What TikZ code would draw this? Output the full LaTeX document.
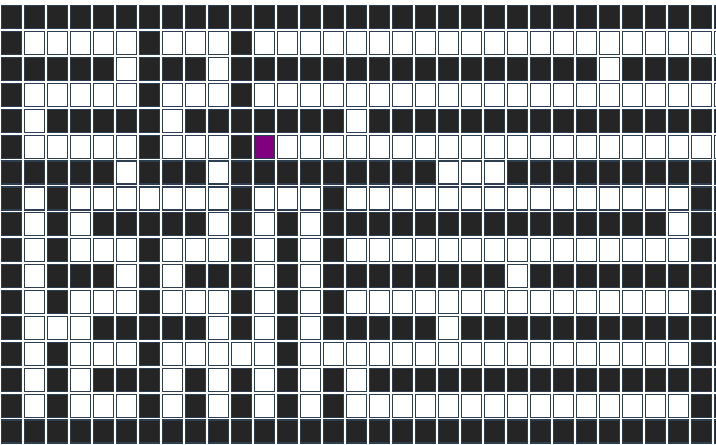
\documentclass[tikz,border=0pt]{standalone}
\definecolor{wallc}{HTML}{252525}
\definecolor{edgec}{HTML}{2C3E50}
\definecolor{goalc}{HTML}{800080}
\begin{document}
\begin{tikzpicture}[x=1pt,y=-1pt,
  cellbox/.style={draw=edgec, line width=1.2pt, fill=white},
  wallbox/.style={cellbox, fill=wallc},
  goalbox/.style={cellbox, fill=goalc}]
\useasboundingbox[fill=white] (0,0) rectangle (716,445);
\foreach \r in {0,...,16}{
  \foreach \c in {0,...,31}{
    \path[cellbox] ({1.6+23*\c},{5.6+25.9*\r}) rectangle ++(20,23);
  }
}
\foreach \r/\cols in {
  0/{0,...,31},
  1/{0,6,10},
  2/{0,1,2,3,4,6,7,8,10,11,12,13,14,15,16,17,18,19,20,21,22,23,24,25,27,28,29,30,31},
  3/{0,6,10},
  4/{0,2,3,4,5,6,8,9,10,11,12,13,14,16,17,18,19,20,21,22,23,24,25,26,27,28,29,30,31},
  5/{0,6,10},
  6/{0,1,2,3,4,6,7,8,10,11,12,13,14,15,16,17,18,22,23,24,25,26,27,28,29,30,31},
  7/{0,2,10,14,30,31},
  8/{0,2,4,5,6,7,8,10,12,14,15,16,17,18,19,20,21,22,23,24,25,26,27,28,30,31},
  9/{0,2,6,10,12,14,30,31},
  10/{0,2,3,4,6,8,9,10,12,14,15,16,17,18,19,20,21,23,24,25,26,27,28,29,30,31},
  11/{0,2,6,10,12,14,30,31},
  12/{0,4,5,6,7,8,10,12,14,15,16,17,18,20,21,22,23,24,25,26,27,28,29,30,31},
  13/{0,2,6,12,30,31},
  14/{0,2,4,5,6,8,10,12,14,16,17,18,19,20,21,22,23,24,25,26,27,28,29,30,31},
  15/{0,2,6,8,10,12,14,30,31},
  16/{0,...,31}}{
  \foreach \c in \cols{
    \path[wallbox] ({1.6+23*\c},{5.6+25.9*\r}) rectangle ++(20,23);
  }
}
\path[goalbox] ({1.6+23*11},{5.6+25.9*5}) rectangle ++(20,23);
\end{tikzpicture}
\end{document}
